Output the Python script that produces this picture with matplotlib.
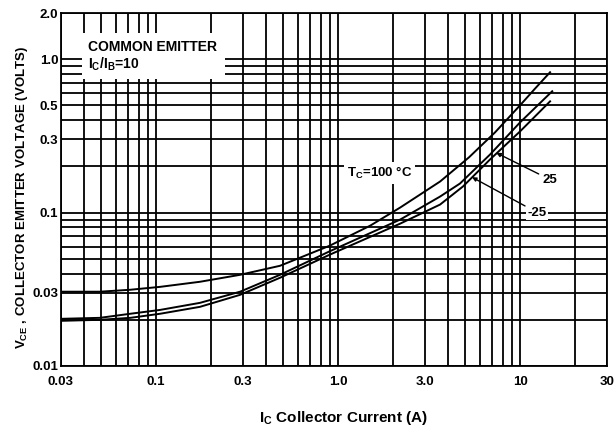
import matplotlib
matplotlib.use("Agg")
import matplotlib.pyplot as plt
from matplotlib.patches import Rectangle
from matplotlib.ticker import FixedLocator, FixedFormatter, LogLocator, NullFormatter

plt.rcParams['font.family'] = ['Liberation Sans', 'DejaVu Sans']
plt.rcParams['font.weight'] = 'bold'
plt.rcParams['mathtext.fontset'] = 'custom'
plt.rcParams['mathtext.rm'] = 'Liberation Sans:bold'
plt.rcParams['mathtext.it'] = 'Liberation Sans:bold'
plt.rcParams['mathtext.bf'] = 'Liberation Sans:bold'
plt.rcParams['mathtext.default'] = 'rm'

# ---- data ----
ic_100 = [0.03, 0.049, 0.072, 0.105, 0.174, 0.289, 0.479, 0.90, 1.50, 2.19, 3.63, 5.23, 7.27, 9.98, 12.1, 14.6]
vce_100 = [0.0305, 0.0305, 0.0314, 0.0328, 0.0354, 0.0393, 0.0450, 0.0609, 0.0822, 0.1078, 0.1594, 0.229, 0.333, 0.50, 0.645, 0.822]

ic_25 = [0.03, 0.049, 0.072, 0.105, 0.174, 0.289, 0.479, 0.90, 2.19, 3.63, 4.67, 6.83, 9.98, 15.0]
vce_25 = [0.0203, 0.0206, 0.0219, 0.0232, 0.0258, 0.0305, 0.0393, 0.056, 0.090, 0.1272, 0.1547, 0.239, 0.387, 0.618]

ic_m25 = [0.03, 0.049, 0.072, 0.105, 0.174, 0.289, 0.479, 0.90, 2.19, 3.63, 4.85, 6.83, 9.98, 14.6]
vce_m25 = [0.0197, 0.0200, 0.0206, 0.0219, 0.0243, 0.0291, 0.0376, 0.0532, 0.0847, 0.1128, 0.148, 0.222, 0.338, 0.531]

x_ticks = [0.03, 0.1, 0.3, 1.0, 3.0, 10, 30]
x_ticklabels = ["0.03", "0.1", "0.3", "1.0", "3.0", "10", "30"]
y_ticks = [0.01, 0.03, 0.1, 0.3, 0.5, 1.0, 2.0]
y_ticklabels = ["0.01", "0.03", "0.1", "0.3", "0.5", "1.0", "2.0"]

fig = plt.figure(figsize=(6.14, 4.32), dpi=100)
ax = fig.add_axes([61/614, 1-366/432, 546/614, 353/432])
ax.set_xscale('log')
ax.set_yscale('log')
ax.set_xlim(0.03, 30)
ax.set_ylim(0.01, 2.0)

ax.xaxis.set_major_locator(FixedLocator(x_ticks))
ax.xaxis.set_major_formatter(FixedFormatter(x_ticklabels))
ax.yaxis.set_major_locator(FixedLocator(y_ticks))
ax.yaxis.set_major_formatter(FixedFormatter(y_ticklabels))
ax.xaxis.set_minor_locator(LogLocator(base=10, subs=range(1, 10), numticks=50))
ax.yaxis.set_minor_locator(LogLocator(base=10, subs=range(1, 10), numticks=50))
ax.xaxis.set_minor_formatter(NullFormatter())
ax.yaxis.set_minor_formatter(NullFormatter())
ax.tick_params(which='both', length=0)
ax.tick_params(axis='x', pad=7, labelsize=9.5)
ax.tick_params(axis='y', pad=2, labelsize=9.5)
ax.grid(which='both', color='black', lw=1.3)
for s in ax.spines.values():
    s.set_color('black')
    s.set_linewidth(1.3)

for ic, v in [(ic_100, vce_100), (ic_25, vce_25), (ic_m25, vce_m25)]:
    ax.plot(ic, v, color='black', lw=1.4, zorder=3)

# white box with legend text
ax.add_patch(Rectangle((0.0385, 0.813), 0.262, 0.130, transform=ax.transAxes,
                       facecolor='white', edgecolor='none', zorder=4))
ax.text(0.05, 0.903, "COMMON EMITTER", transform=ax.transAxes, fontsize=10,
        fontweight='bold', va='center', ha='left', zorder=5)
ax.text(0.05, 0.855, "I$_C$/I$_B$=10", transform=ax.transAxes, fontsize=10,
        fontweight='bold', va='center', ha='left', zorder=5)

ax.text(0.524, 0.547, "T$_C$=100 °C", transform=ax.transAxes, fontsize=9.5,
        fontweight='bold', va='center', ha='left', zorder=5,
        bbox=dict(facecolor='white', edgecolor='none', pad=2))

ax.annotate("25", xy=(7.4, 0.245), xytext=(13.3, 0.164), fontsize=9.5,
            fontweight='bold', va='center', ha='left', zorder=6,
            arrowprops=dict(arrowstyle='-|>', color='black', lw=1.0,
                            mutation_scale=6, shrinkA=1, shrinkB=0))
ax.annotate("-25", xy=(5.44, 0.17), xytext=(11.0, 0.1), fontsize=9.5,
            fontweight='bold', va='center', ha='left', zorder=6,
            bbox=dict(facecolor='white', edgecolor='none', pad=1),
            arrowprops=dict(arrowstyle='-|>', color='black', lw=1.0,
                            mutation_scale=6, shrinkA=1, shrinkB=0))

fig.text(0.036, 0.544, "V$_{CE}$ , COLLECTOR EMITTER VOLTAGE (VOLTS)", rotation=90,
         ha='center', va='center', fontsize=9.5, fontweight='bold')
fig.text(0.56, 0.033, "I$_C$ Collector Current (A)", ha='center', va='center',
         fontsize=11, fontweight='bold')

fig.savefig("out.png", dpi=100)
